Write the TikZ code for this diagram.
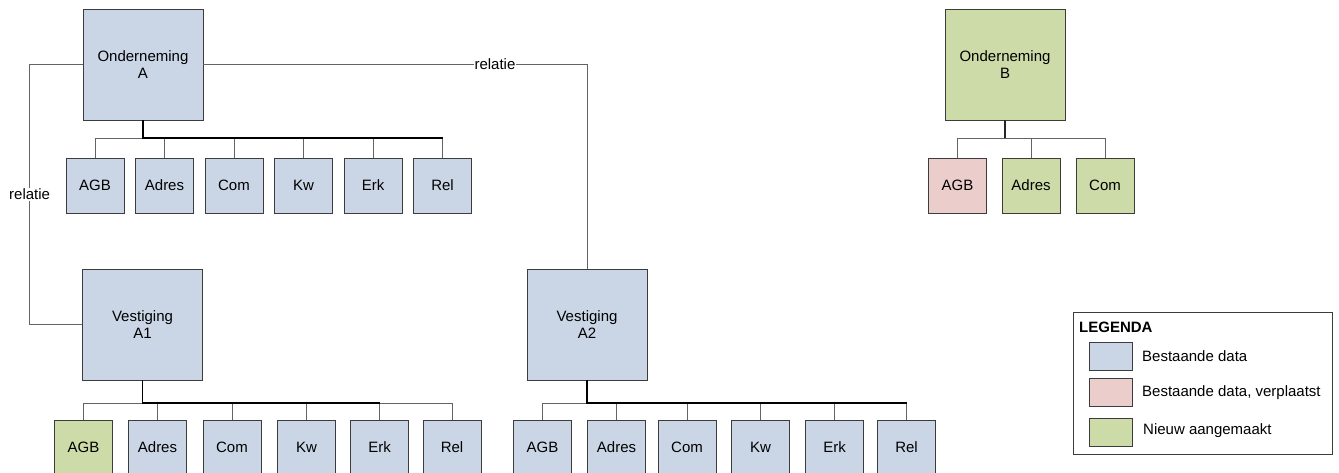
\documentclass[tikz,border=0pt]{standalone}
\usepackage{fontspec}
\setmainfont{Liberation Sans}
\definecolor{cblue}{RGB}{202,214,230}
\definecolor{cgreen}{RGB}{205,219,169}
\definecolor{cpink}{RGB}{235,205,204}
\definecolor{boxline}{RGB}{60,60,60}
\definecolor{linegray}{RGB}{100,100,100}
\begin{document}
\begin{tikzpicture}[x=1pt,y=-1pt,
  base/.style={draw=boxline, line width=0.8pt, inner sep=0pt, align=center, font=\fontsize{15}{17}\selectfont},
  big/.style={base, minimum width=120pt, minimum height=111pt},
  small/.style={base, minimum width=58pt, minimum height=55pt},
  blue/.style={fill=cblue},
  green/.style={fill=cgreen},
  pink/.style={fill=cpink},
  conn/.style={draw=linegray, line width=0.9pt},
  trunk/.style={draw=black, line width=1.6pt},
  lbl/.style={fill=white, inner sep=1pt, font=\fontsize{15}{17}\selectfont},
  swatch/.style={draw=boxline, line width=0.8pt, minimum width=43pt, minimum height=28pt, inner sep=0pt},
  legtext/.style={anchor=west, inner sep=0pt, font=\fontsize{15}{17}\selectfont}
]
\useasboundingbox (0,0) rectangle (1339,473);

% parents
\node[big,blue] (OA) at (143,64.5) {Onderneming\\A};
\node[big,green] (OB) at (1005,64.5) {Onderneming\\B};
\node[big,blue] (VA1) at (142.5,324.5) {Vestiging\\A1};
\node[big,blue] (VA2) at (587,324.5) {Vestiging\\A2};

% children of Onderneming A
\foreach \n/\x/\t in {agb/95/AGB, adr/164.5/Adres, com/234/Com, kw/303.5/Kw, erk/373/Erk, rel/442.5/Rel}
  \node[small,blue] (a-\n) at (\x,185.5) {\t};
% children of Onderneming B
\node[small,pink] (b-agb) at (957.5,185.5) {AGB};
\node[small,green] (b-adr) at (1031,185.5) {Adres};
\node[small,green] (b-com) at (1105,185.5) {Com};
% children of Vestiging A1
\node[small,green] (v1-agb) at (83.5,447.5) {AGB};
\foreach \n/\x/\t in {adr/157.5/Adres, com/232/Com, kw/306.5/Kw, erk/379.5/Erk, rel/452/Rel}
  \node[small,blue] (v1-\n) at (\x,447.5) {\t};
% children of Vestiging A2
\foreach \n/\x/\t in {agb/542.5/AGB, adr/616.5/Adres, com/687/Com, kw/760.5/Kw, erk/834.5/Erk, rel/906.5/Rel}
  \node[small,blue] (v2-\n) at (\x,447.5) {\t};

% bus coordinates
\coordinate (busA) at (143,138);
\coordinate (busB) at (1005,138);
\coordinate (busV1) at (142.5,403);
\coordinate (busV2) at (587,403);

% connectors
\foreach \n in {agb,adr,com,kw,erk,rel}
  \draw[conn] (OA.south) -- (busA) -| (a-\n.north);
\foreach \n in {agb,adr,com}
  \draw[conn] (OB.south) -- (busB) -| (b-\n.north);
\foreach \n in {agb,adr,com,kw,erk,rel}
  \draw[conn] (VA1.south) -- (busV1) -| (v1-\n.north);
\foreach \n in {agb,adr,com,kw,erk,rel}
  \draw[conn] (VA2.south) -- (busV2) -| (v2-\n.north);

\draw[trunk] (OA.south) -- (busA) -- (busA -| a-rel.north);
\draw[trunk] (VA1.south) -- (busV1) -- (busV1 -| v1-erk.north);
\draw[trunk] (VA2.south) -- (busV2) -- (busV2 -| v2-rel.north);
\draw[conn, line width=1.2pt, draw=black!85] (OB.south) -- (busB);

% relations
\draw[conn] (OA.west) -- ++(-53,0) |- node[lbl,pos=0.25]{relatie} (VA1.west);
\draw[conn] (OA.east) -| node[lbl,pos=0.38]{relatie} (VA2.north);

% legend
\node[draw=boxline, line width=0.8pt, minimum width=259pt, minimum height=142pt, anchor=north west, inner sep=0pt] (leg) at (1073,312) {};
\node[legtext, font=\fontsize{15}{17}\selectfont\bfseries] (legt) at (1079,327) {LEGENDA};
\node[swatch, fill=cblue] (s1) at (1110.5,356) {};
\node[swatch, fill=cpink] (s2) at (1110.5,392.5) {};
\node[swatch, fill=cgreen] (s3) at (1110.5,432) {};
\node[legtext] (t1) at (1142,356) {Bestaande data};
\node[legtext] (t2) at (1142,392.5) {Bestaande data, verplaatst};
\node[legtext] (t3) at (1143,431) {Nieuw aangemaakt};
\end{tikzpicture}
\end{document}
